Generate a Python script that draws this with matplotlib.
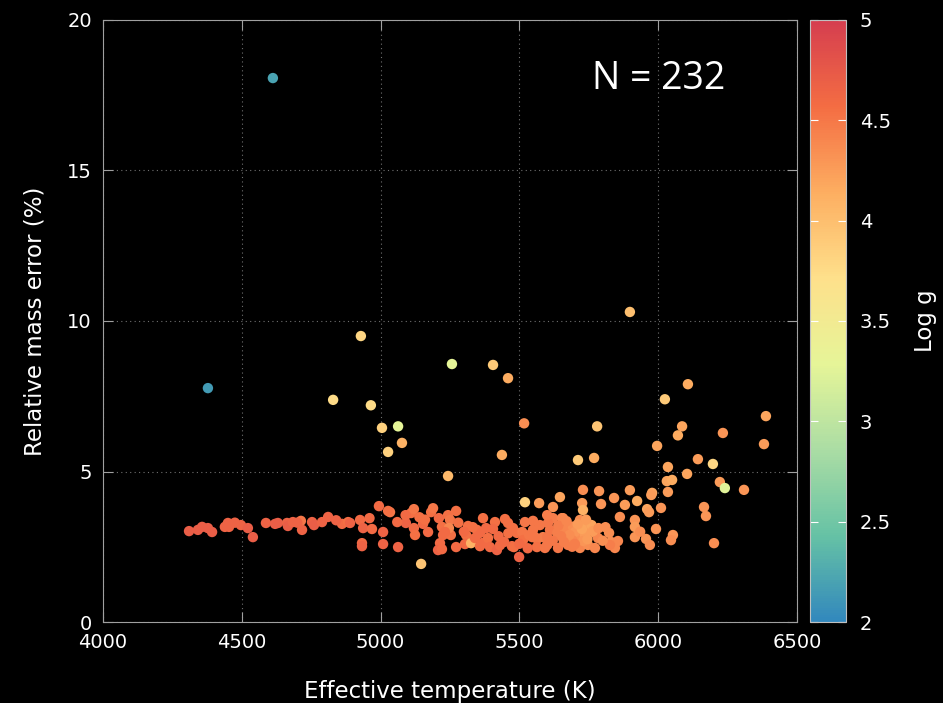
import matplotlib
matplotlib.use("Agg")
import matplotlib.pyplot as plt
from matplotlib.colors import LinearSegmentedColormap
import numpy as np

# (Teff [K], relative mass error [%], log g)
teff = [
    4612, 4378, 4829, 4929, 4965, 5005, 5063, 5027, 5077, 5257,
    5405, 5459, 5517, 5437, 5243, 5898, 6107, 6024, 6086, 6071,
    5996, 5780, 5711, 5769, 6143, 6035, 6197, 6233, 6388, 6381,
    6222, 6240, 6309, 6201, 5520, 6104, 6165, 6172, 6031, 6050,
    6035, 5978, 5975, 5898, 5841, 5787, 5729, 5726, 5729, 5794,
    5880, 5924, 6010, 5960, 5967, 5862, 5657, 5916, 5916, 5992,
    5823, 5916, 5956, 5970, 6053, 6046, 5830, 5855, 5844, 5571,
    5621, 5646, 5034, 5110, 5120, 5182, 5189, 5272, 5243, 5250,
    5210, 5091, 5120, 5153, 5171, 5124, 5009, 5009, 5063, 5146,
    5221, 5243, 5225, 5253, 5214, 5207, 5221, 5272, 5315, 5308,
    5304, 5326, 5369, 5347, 5358, 5380, 5412, 5405, 5365, 5387,
    5394, 5419, 5448, 5459, 5445, 5473, 5499, 5477, 5491, 5510,
    5513, 5549, 5574, 5546, 5564, 5585, 5600, 5621, 5653, 5610,
    5636, 5600, 5639, 5664, 5690, 4310, 4342, 4357, 4378, 4393,
    4439, 4450, 4454, 4497, 4522, 4540, 4587, 4620, 4630, 4663,
    4666, 4684, 4713, 4717, 4753, 4760, 4789, 4811, 4861, 4883,
    4890, 4926, 4937, 4969, 4933, 4933, 4994, 5027, 5603, 5672,
    5693, 5718, 5744, 5754, 5772, 5556, 5563, 5592, 5675, 5708,
    5718, 5747, 5772, 5783, 5736, 5826, 5549, 5700, 5725, 5730,
    5690, 5760, 5680, 5745, 5660, 5710, 5765, 5650, 5700, 5785,
    5246, 5232, 5340, 5332, 5358, 5430, 5480, 5520, 5535, 5090,
    5160, 5280, 5300, 5425, 5460, 5500, 5530, 5620, 5640, 5670,
    5800, 5810, 5935, 4475, 4700, 4840, 4960, 5060, 5140, 5600,
    5690, 5740,
]
mass_err = [
    18.07, 7.77, 7.38, 9.50, 7.20, 6.45, 6.50, 5.65, 5.95, 8.57,
    8.54, 8.10, 6.60, 5.55, 4.85, 10.30, 7.90, 7.40, 6.50, 6.20,
    5.85, 6.50, 5.38, 5.45, 5.41, 5.15, 5.25, 6.28, 6.84, 5.91,
    4.65, 4.45, 4.39, 2.62, 3.98, 4.92, 3.82, 3.52, 4.68, 4.72,
    4.32, 4.29, 4.22, 4.38, 4.12, 4.35, 4.39, 3.95, 3.72, 3.92,
    3.89, 4.02, 3.79, 3.75, 3.65, 3.49, 3.45, 3.39, 3.16, 3.09,
    2.96, 2.82, 2.76, 2.56, 2.89, 2.72, 2.66, 2.69, 2.46, 3.95,
    3.82, 4.15, 3.65, 3.62, 3.75, 3.65, 3.78, 3.69, 3.55, 3.39,
    3.45, 3.29, 3.12, 3.26, 2.99, 2.89, 2.99, 2.59, 2.49, 1.93,
    3.16, 3.02, 2.89, 2.89, 2.62, 2.39, 2.42, 2.49, 3.19, 2.89,
    2.59, 2.62, 3.45, 3.06, 2.96, 3.12, 3.32, 3.09, 2.62, 2.79,
    2.49, 2.39, 3.42, 3.29, 2.66, 2.52, 2.16, 3.12, 2.96, 2.99,
    2.72, 3.36, 3.22, 2.82, 2.76, 2.82, 2.56, 3.45, 3.45, 3.06,
    2.96, 2.82, 2.46, 3.06, 3.16, 3.02, 3.06, 3.16, 3.12, 2.99,
    3.16, 3.29, 3.16, 3.22, 3.12, 2.82, 3.29, 3.26, 3.29, 3.29,
    3.19, 3.32, 3.36, 3.06, 3.32, 3.22, 3.32, 3.49, 3.26, 3.32,
    3.29, 3.39, 3.12, 3.09, 2.62, 2.52, 3.85, 3.69, 3.29, 3.06,
    3.16, 3.39, 3.29, 3.12, 2.96, 2.82, 2.49, 2.46, 2.56, 2.82,
    2.46, 2.56, 2.46, 2.79, 2.89, 2.56, 3.06, 2.99, 3.09, 2.69,
    2.72, 3.22, 2.89, 2.75, 2.66, 3.25, 3.02, 2.85, 2.59, 3.12,
    3.12, 2.99, 2.79, 3.15, 2.52, 2.55, 2.49, 3.32, 2.89, 3.55,
    3.40, 3.30, 3.00, 2.85, 2.95, 2.60, 2.45, 2.70, 3.20, 3.35,
    2.70, 3.15, 3.00, 3.30, 3.30, 3.38, 3.45, 3.32, 3.48, 3.55,
    2.50, 3.40,
]
logg = [
    2.20, 2.15, 3.75, 3.80, 3.75, 3.85, 3.30, 3.85, 4.10, 3.30,
    3.90, 4.15, 4.35, 4.15, 4.05, 4.00, 4.15, 3.90, 4.20, 4.15,
    4.20, 3.95, 3.90, 4.15, 4.25, 4.20, 3.80, 4.30, 4.20, 4.25,
    4.25, 3.25, 4.30, 4.35, 3.85, 4.20, 4.30, 4.30, 4.20, 4.15,
    4.25, 4.20, 4.25, 4.25, 4.30, 4.30, 4.35, 4.25, 4.10, 4.30,
    4.25, 4.15, 4.30, 4.20, 4.25, 4.35, 4.40, 4.30, 4.25, 4.30,
    4.35, 4.30, 4.30, 4.35, 4.30, 4.35, 4.35, 4.40, 4.40, 4.25,
    4.30, 4.20, 4.50, 4.55, 4.50, 4.55, 4.50, 4.55, 4.55, 4.50,
    4.60, 4.65, 4.60, 4.60, 4.60, 4.55, 4.65, 4.65, 4.65, 3.95,
    4.55, 4.40, 4.60, 4.55, 4.60, 4.65, 4.60, 4.60, 4.55, 4.55,
    4.60, 4.10, 4.55, 4.55, 4.60, 4.60, 4.55, 4.60, 4.60, 4.55,
    4.60, 4.65, 4.55, 4.55, 4.60, 4.60, 4.65, 4.55, 4.55, 4.50,
    4.55, 4.50, 4.50, 4.50, 4.50, 4.45, 4.50, 4.45, 4.40, 4.50,
    4.45, 4.50, 4.50, 4.40, 4.35, 4.70, 4.70, 4.70, 4.70, 4.70,
    4.65, 4.65, 4.65, 4.65, 4.70, 4.70, 4.65, 4.70, 4.70, 4.65,
    4.70, 4.65, 4.50, 4.65, 4.65, 4.70, 4.65, 4.65, 4.60, 4.55,
    4.65, 4.60, 4.65, 4.60, 4.60, 4.65, 4.60, 4.55, 4.50, 4.40,
    4.35, 4.35, 4.25, 4.25, 4.30, 4.50, 4.55, 4.50, 4.45, 4.35,
    4.40, 4.35, 4.40, 4.40, 4.25, 4.45, 4.50, 4.30, 4.20, 4.30,
    4.40, 4.20, 4.35, 4.25, 4.45, 4.25, 4.25, 4.45, 4.45, 4.35,
    4.40, 4.60, 4.60, 4.55, 4.60, 4.60, 4.55, 4.50, 4.50, 4.60,
    4.55, 4.55, 4.60, 4.60, 4.55, 4.60, 4.60, 4.50, 4.45, 4.40,
    4.35, 4.35, 4.35, 4.65, 4.65, 4.65, 4.60, 4.60, 4.55, 4.45,
    4.45, 4.25,
]

palette = ["#3288bd", "#66c2a5", "#abdda4", "#e6f598",
           "#fee08b", "#fdae61", "#f46d43", "#d53e4f"]
cmap = LinearSegmentedColormap.from_list("spec", palette)

gray = "#a0a0a0"
plt.rcParams["font.family"] = "DejaVu Sans"

fig = plt.figure(figsize=(9.43, 7.03), dpi=100, facecolor="black")
ax = fig.add_axes([0.1092, 0.1152, 0.736, 0.8564], facecolor="black")
cax = fig.add_axes([0.859, 0.1152, 0.038, 0.8564])

sc = ax.scatter(teff, mass_err, c=logg, cmap=cmap, vmin=2, vmax=5,
                s=56, linewidths=0, zorder=3)

ax.set_xlim(4000, 6500)
ax.set_ylim(0, 20)
ax.set_xticks(np.arange(4000, 6501, 500))
ax.set_yticks(np.arange(0, 21, 5))
ax.grid(True, color="#707070", linestyle=(0, (1, 3)), linewidth=0.8)
ax.tick_params(direction="in", length=7, color=gray, labelcolor="white",
               labelsize=14, top=True, right=True, pad=8)
for sp in ax.spines.values():
    sp.set_color(gray)

ax.set_xlabel("Effective temperature (K)", color="white", fontsize=16.5, labelpad=20)
ax.set_ylabel("Relative mass error (%)", color="white", fontsize=16.5, labelpad=15)

ax.text(0.80, 0.902, "N = 232", transform=ax.transAxes, color="white",
        fontsize=27, family="Open Sans", ha="center", va="center")

cb = fig.colorbar(sc, cax=cax)
cb.set_ticks([2, 2.5, 3, 3.5, 4, 4.5, 5])
cb.set_ticklabels(["2", "2.5", "3", "3.5", "4", "4.5", "5"])
cb.outline.set_edgecolor("#c0c0c0")
cax.tick_params(direction="in", length=6, color="white", labelcolor="white",
                labelsize=14, left=True, right=True, pad=10)
cb.set_label("Log g", color="white", fontsize=16.5, labelpad=17)

fig.savefig("out.png", dpi=100, facecolor="black")
